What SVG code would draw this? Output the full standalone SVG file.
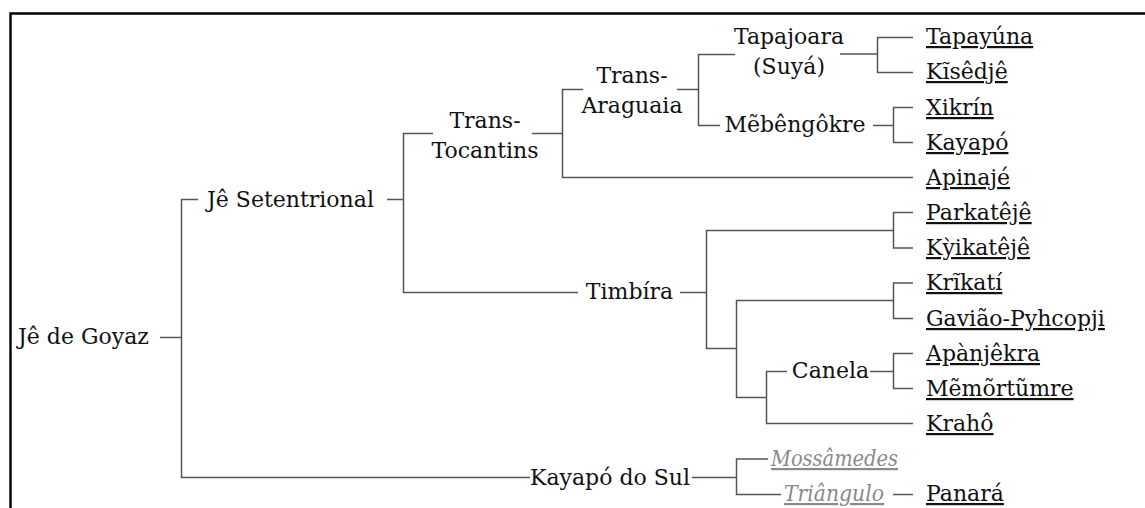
<svg xmlns="http://www.w3.org/2000/svg" width="1145" height="508" viewBox="0 0 1145 508">
<style>
text{font-family:"DejaVu Serif","Liberation Serif",serif;font-size:22px;fill:#111}
.m{text-anchor:middle}
.leaf{text-decoration:underline;text-decoration-thickness:2px}
.ext{font-style:italic;fill:#8a8a8a;text-decoration:underline}
.c{fill:none;stroke:#555;stroke-width:1.5}
</style>
<rect width="1145" height="508" fill="#fff"/>
<path d="M10.5,508 V13.5 H1145" fill="none" stroke="#000" stroke-width="2.4"/>
<g id="connectors" class="c">
<path d="M160,337.5 H181.5"/>
<path d="M198,199.5 H181.5 V477.5 H530"/>
<path d="M387,199.5 H403.5"/>
<path d="M433,133.5 H403.5 V292.5 H578"/>
<path d="M532,133.5 H562.5"/>
<path d="M583,89.5 H562.5 V177.5 H913"/>
<path d="M677,89.5 H698.5"/>
<path d="M735,54.5 H698.5 V125.5 H720"/>
<path d="M840,54 H877.5"/>
<path d="M913,37.5 H877.5 V72.5 H913"/>
<path d="M873,125.5 H893.5"/>
<path d="M913,107.5 H893.5 V142.5 H913"/>
<path d="M680,292.5 H706.5"/>
<path d="M893.5,230.5 H706.5 V348.5 H736.5"/>
<path d="M913,212.5 H893.5 V248 H913"/>
<path d="M893.5,300.5 H736.5 V397.5 H766.5"/>
<path d="M913,283 H893.5 V318.5 H913"/>
<path d="M787,371.5 H766.5 V423.5 H913"/>
<path d="M870,371.5 H893.5"/>
<path d="M913,353.5 H893.5 V388.5 H913"/>
<path d="M692,477.5 H736.5"/>
<path d="M768,459 H736.5 V494.5 H781"/>
<path d="M893,494.5 H913"/>
</g>
<g id="n-je-de-goyaz"><text x="18" y="344">Jê de Goyaz</text></g>
<g id="n-je-setentrional"><text x="207" y="207">Jê Setentrional</text></g>
<g id="n-trans-tocantins"><text class="m" x="485" y="128">Trans-</text><text class="m" x="485" y="158">Tocantins</text></g>
<g id="n-trans-araguaia"><text class="m" x="632" y="83">Trans-</text><text class="m" x="632" y="113">Araguaia</text></g>
<g id="n-tapajoara"><text class="m" x="789" y="44">Tapajoara</text><text class="m" x="789" y="74">(Suyá)</text></g>
<g id="n-mebengokre"><text class="m" x="795" y="132">Mẽbêngôkre</text></g>
<g id="n-timbira"><text class="m" x="629.5" y="299">Timbíra</text></g>
<g id="n-canela"><text class="m" x="830.5" y="378">Canela</text></g>
<g id="n-kayapo-do-sul"><text x="530" y="485">Kayapó do Sul</text></g>
<g id="n-mossamedes"><text class="ext" x="771" y="466" textLength="127" lengthAdjust="spacingAndGlyphs">Mossâmedes</text></g>
<g id="n-triangulo"><text class="ext" x="784" y="501" textLength="100" lengthAdjust="spacingAndGlyphs">Triângulo</text></g>
<g id="n-tapayuna"><text class="leaf" x="926" y="44">Tapayúna</text></g>
<g id="n-kisedje"><text class="leaf" x="926" y="79">Kĩsêdjê</text></g>
<g id="n-xikrin"><text class="leaf" x="926" y="115">Xikrín</text></g>
<g id="n-kayapo"><text class="leaf" x="926" y="150">Kayapó</text></g>
<g id="n-apinaje"><text class="leaf" x="926" y="185">Apinajé</text></g>
<g id="n-parkateje"><text class="leaf" x="926" y="220">Parkatêjê</text></g>
<g id="n-kyikateje"><text class="leaf" x="926" y="255">Kỳikatêjê</text></g>
<g id="n-krikati"><text class="leaf" x="926" y="290">Krĩkatí</text></g>
<g id="n-gaviao"><text class="leaf" x="926" y="326">Gavião-Pyhcopji</text></g>
<g id="n-apanjekra"><text class="leaf" x="926" y="361">Apànjêkra</text></g>
<g id="n-memortumre"><text class="leaf" x="926" y="396">Mẽmõrtũmre</text></g>
<g id="n-kraho"><text class="leaf" x="926" y="431">Krahô</text></g>
<g id="n-panara"><text class="leaf" x="926" y="501">Panará</text></g>
</svg>
